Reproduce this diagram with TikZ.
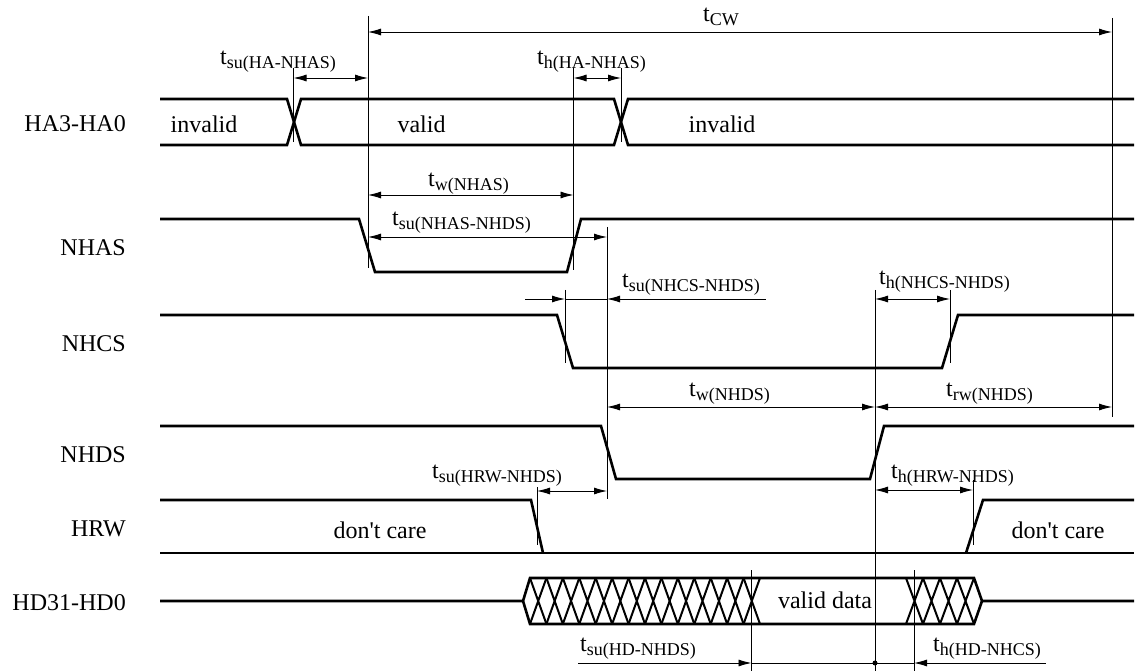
\documentclass[tikz,border=0pt]{standalone}
\usepackage{fontspec}
\setmainfont{Liberation Serif}
\usetikzlibrary{arrows.meta}
\newcommand{\tsub}[1]{t\raisebox{-4pt}{\fontsize{18}{18}\selectfont #1}}

\begin{document}
\begin{tikzpicture}[x=1pt, y=-1pt, >={Latex[length=13pt,width=7pt]},
                    sig/.style={line width=2.6pt},
                    hatch/.style={line width=2pt},
                    dim/.style={line width=0.9pt},
                    guide/.style={line width=0.9pt},
                    every node/.style={inner sep=0pt, font=\fontsize{24}{28}\selectfont}]

    \useasboundingbox (0,0) rectangle (1136,671);

    % signal names
    \node[anchor=base east] (nHA)   at (126,132)   {HA3-HA0};
    \node[anchor=base east] (nHAS)  at (126,255.5) {NHAS};
    \node[anchor=base east] (nHCS)  at (126,351.5) {NHCS};
    \node[anchor=base east] (nHDS)  at (126,462.5) {NHDS};
    \node[anchor=base east] (nHRW)  at (126,536.5) {HRW};
    \node[anchor=base east] (nHD)   at (126,610.5) {HD31-HD0};

    % guide lines
    \foreach \x/\ya/\yb in {293.5/68/142, 368/16/268, 573.5/68/270, 621/68/142,
                            1112/18/417, 607/227/499, 565/290/363, 875/290/671,
                            950/290/363, 537/487/545, 973/480/545,
                            751.5/570/671, 914/570/671}
        \draw[guide] (\x,\ya) -- (\x,\yb);

    % HA3-HA0
    \draw[sig] (160,99) -- (287,99) -- (301,145) -- (614,145) -- (628,99) -- (1134,99);
    \draw[sig] (160,145) -- (287,145) -- (301,99) -- (614,99) -- (628,145) -- (1134,145);
    \node[anchor=base] (haInv1) at (204,133)   {invalid};
    \node[anchor=base] (haVal)  at (421.5,133) {valid};
    \node[anchor=base] (haInv2) at (722,133)   {invalid};

    % NHAS, NHCS, NHDS
    \draw[sig] (160,219) -- (359,219) -- (375,272) -- (567,272) -- (581,219) -- (1134,219);
    \draw[sig] (160,315) -- (557,315) -- (573,368) -- (942,368) -- (958,315) -- (1134,315);
    \draw[sig] (160,426) -- (601,426) -- (616,479) -- (870,479) -- (884,426) -- (1134,426);

    % HRW
    \draw[sig] (160,500) -- (531,500) -- (543,553);
    \draw[sig] (160,553) -- (1134,553);
    \draw[sig] (966,553) -- (983,500) -- (1134,500);
    \node[anchor=base] (hrwDc1) at (380,538)  {don\textquotesingle t care};
    \node[anchor=base] (hrwDc2) at (1058,538) {don\textquotesingle t care};

    % HD31-HD0
    \draw[sig] (160,601) -- (523,601) -- (530,578) -- (974,578) -- (982,601) -- (1134,601);
    \draw[sig] (523,601) -- (530,624) -- (974,624) -- (982,601);
    \foreach \xa/\xb/\n in {530/760/14, 906/974/4} {
        \pgfmathsetmacro\h{(\xb-\xa)/\n}
        \foreach \k in {1,...,\n}
            \draw[hatch] ({\xa+(\k-1)*\h},578) -- ({\xa+\k*\h},624)
                         ({\xa+(\k-1)*\h},624) -- ({\xa+\k*\h},578);
    }
    \node[anchor=base] (hdVal) at (825,608) {valid data};

    % timing arrows
    \draw[dim,<->] (368,32) -- (1112,32);
    \draw[dim,<->] (293.5,78) -- (368,78);
    \draw[dim,<->] (573.5,78) -- (621,78);
    \draw[dim,<->] (368,195) -- (573.5,195);
    \draw[dim,<->] (368,237) -- (607,237);
    \draw[dim,->] (525,299) -- (565,299);
    \draw[dim] (565,299) -- (607,299);
    \draw[dim,<-] (607,299) -- (766,299);
    \draw[dim,<->] (875,299) -- (950,299);
    \draw[dim,<->] (607,407) -- (875,407);
    \draw[dim,<->] (875,407) -- (1112,407);
    \draw[dim,<->] (537,491) -- (607,491);
    \draw[dim,<->] (875,490) -- (973,490);
    \draw[dim,->] (578,663) -- (751.5,663);
    \draw[dim] (751.5,663) -- (914,663);
    \draw[dim,<-] (914,663) -- (1046,663);
    \fill (875,663) circle (2.5);

    % timing labels
    \node[anchor=base west] (tCW)    at (703,22)  {\tsub{CW}};
    \node[anchor=base west] (tsuHA)  at (220,65)  {\tsub{su(HA-NHAS)}};
    \node[anchor=base west] (thHA)   at (537,65)  {\tsub{h(HA-NHAS)}};
    \node[anchor=base west] (twHAS)  at (428,187) {\tsub{w(NHAS)}};
    \node[anchor=base west] (tsuHAS) at (392,226) {\tsub{su(NHAS-NHDS)}};
    \node[anchor=base west] (tsuHCS) at (622,288) {\tsub{su(NHCS-NHDS)}};
    \node[anchor=base west] (thHCS)  at (879,285) {\tsub{h(NHCS-NHDS)}};
    \node[anchor=base west] (twHDS)  at (689,396) {\tsub{w(NHDS)}};
    \node[anchor=base west] (trwHDS) at (946,396) {\tsub{rw(NHDS)}};
    \node[anchor=base west] (tsuHRW) at (432,478) {\tsub{su(HRW-NHDS)}};
    \node[anchor=base west] (thHRW)  at (891,478) {\tsub{h(HRW-NHDS)}};
    \node[anchor=base west] (tsuHD)  at (580,651) {\tsub{su(HD-NHDS)}};
    \node[anchor=base west] (thHD)   at (933,651) {\tsub{h(HD-NHCS)}};
\end{tikzpicture}
\end{document}
